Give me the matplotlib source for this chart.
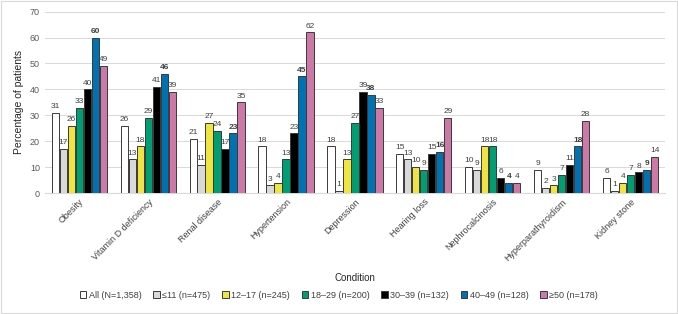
import matplotlib.pyplot as plt
import numpy as np

plt.rcParams['font.family'] = ['Liberation Sans', 'DejaVu Sans']

conditions = ["Obesity", "Vitamin D deficiency", "Renal disease", "Hypertension",
              "Depression", "Hearing loss", "Nephrocalcinosis",
              "Hyperparathyroidism", "Kidney stone"]
groups = ["All (N=1,358)", "≤11 (n=475)", "12–17 (n=245)", "18–29 (n=200)",
          "30–39 (n=132)", "40–49 (n=128)", "≥50 (n=178)"]

all_pts = [31, 26, 21, 18, 18, 15, 10, 9, 6]
age_le11 = [17, 13, 11, 3, 1, 13, 9, 2, 1]
age_12_17 = [26, 18, 27, 4, 13, 10, 18, 3, 4]
age_18_29 = [33, 29, 24, 13, 27, 9, 18, 7, 7]
age_30_39 = [40, 41, 17, 23, 39, 15, 6, 11, 8]
age_40_49 = [60, 46, 23, 45, 38, 16, 4, 18, 9]
age_ge50 = [49, 39, 35, 62, 33, 29, 4, 28, 14]

series = [all_pts, age_le11, age_12_17, age_18_29, age_30_39, age_40_49, age_ge50]
colors = ['#ffffff', '#d9d9d9', '#f0e442', '#009e73', '#000000', '#0072b2', '#cc79a7']

fig = plt.figure(figsize=(6.78, 3.14), dpi=100)
ax = fig.add_axes([0.066, 0.385, 0.915, 0.578])

x = np.arange(len(conditions))
width = 0.104
step = 0.116
for i, (vals, col, name) in enumerate(zip(series, colors, groups)):
    pos = x + (i - 3) * step
    bars = ax.bar(pos, vals, width, color=col, edgecolor='#3a3a3a', linewidth=0.7,
                  label=name, zorder=3)
    ax.bar_label(bars, padding=2, fontsize=6, color='#404040',
                 fontweight='bold' if i == 5 else 'normal')

ax.set_ylim(0, 70)
ax.set_yticks(range(0, 71, 10))
ax.set_xlim(-0.5, len(conditions) - 0.5)
ax.set_xticks(x)
ax.set_xticklabels(conditions, rotation=45, ha='right', rotation_mode='anchor',
                   fontsize=6.5, color='#404040')
ax.tick_params(axis='y', labelsize=6.5, labelcolor='#595959', length=0)
ax.tick_params(axis='x', length=0, pad=3)
ax.grid(True, axis='y', color='#d9d9d9', linewidth=0.7, zorder=0)
for s in ['top', 'right', 'left']:
    ax.spines[s].set_visible(False)
ax.spines['bottom'].set_color('#d9d9d9')

ax.set_ylabel('Percentage of patients', fontsize=7.5, color='#262626')
ax.set_xlabel('Condition', fontsize=7, color='#262626')
ax.xaxis.set_label_coords(0.5, -0.44)

fig.legend(loc='lower center', bbox_to_anchor=(0.5, 0.02), ncol=7, fontsize=6.5,
           frameon=False, handlelength=0.7, handleheight=0.7, handletextpad=0.3,
           columnspacing=1.3, labelcolor='#404040')

fig.patches.append(plt.Rectangle((0.002, 0.003), 0.996, 0.994, transform=fig.transFigure,
                                 fill=False, edgecolor='#d9d9d9', linewidth=0.8))

fig.savefig('out.png', dpi=100)
